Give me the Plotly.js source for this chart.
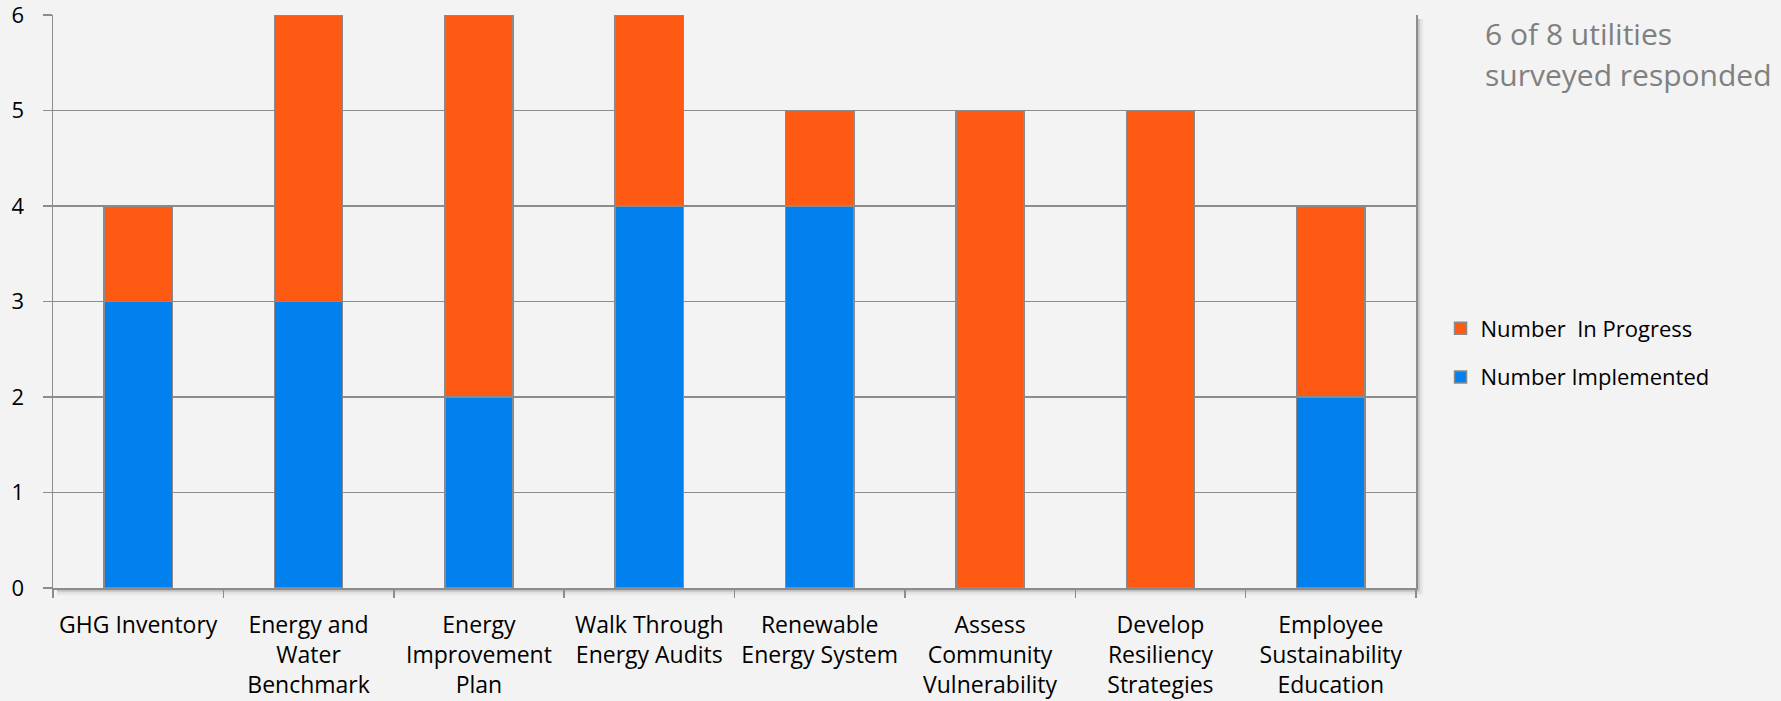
<!DOCTYPE html>
<html>
<head>
<meta charset="utf-8">
<script src="https://cdn.plot.ly/plotly-3.0.1.min.js"></script>
<style>
html,body{margin:0;padding:0;background:#f3f3f3;}
#chart{width:1781px;height:701px;}
</style>
</head>
<body>
<div id="chart"></div>
<script>
const categories = [
  "GHG Inventory",
  "Energy and<br>Water<br>Benchmark",
  "Energy<br>Improvement<br>Plan",
  "Walk Through<br>Energy Audits",
  "Renewable<br>Energy System",
  "Assess<br>Community<br>Vulnerability",
  "Develop<br>Resiliency<br>Strategies",
  "Employee<br>Sustainability<br>Education"
];
const implemented = [3, 3, 2, 4, 4, 0, 0, 2];
const inProgress = [1, 3, 4, 2, 1, 5, 5, 2];
const yTicks = [0, 1, 2, 3, 4, 5, 6];
const noteLines = ["6 of 8 utilities", "surveyed responded"];

const FONT = "Open Sans, sans-serif";
const GRID = "#8c8c8c";

const traces = [
  {
    type: "bar", name: "Number Implemented", x: categories, y: implemented,
    legendgroup: "impl", legendrank: 2,
    marker: {color: "#0180ee", line: {color: "#8a8a8a", width: 1.5}},
    hoverinfo: "skip"
  },
  {
    type: "bar", name: "Number  In Progress", x: categories, y: inProgress,
    legendgroup: "prog", legendrank: 1,
    marker: {color: "#ff5a14", line: {color: "#8a8a8a", width: 1.5}},
    hoverinfo: "skip"
  }
];

// soft shadow of plot area (right and bottom)
const shadow = [];
const shades = ["rgba(0,0,0,0.28)", "rgba(0,0,0,0.16)", "rgba(0,0,0,0.08)", "rgba(0,0,0,0.04)"];
shades.forEach((c, i) => {
  const dx = (i + 1) * 1.6;
  shadow.push({type: "line", xref: "paper", yref: "paper", x0: 1 + dx / 1363, x1: 1 + dx / 1363, y0: 0 - dx / 573, y1: 1 - 4 / 573, line: {color: c, width: 1.6}, layer: "below"});
  shadow.push({type: "line", xref: "paper", yref: "paper", x0: 4 / 1363, x1: 1 + dx / 1363, y0: 0 - dx / 573, y1: 0 - dx / 573, line: {color: c, width: 1.6}, layer: "below"});
});

const layout = {
  width: 1781, height: 701,
  margin: {l: 53, r: 365, t: 15, b: 113, pad: 0},
  paper_bgcolor: "#f3f3f3", plot_bgcolor: "#f3f3f3",
  barmode: "stack", bargap: 0.6,
  font: {family: FONT, size: 22, color: "#000"},
  showlegend: true,
  legend: {
    x: 1.018, xanchor: "left", y: (588 - 353) / 573, yanchor: "middle",
    traceorder: "grouped", font: {family: FONT, size: 22, color: "#000"},
    bgcolor: "rgba(0,0,0,0)", tracegroupgap: 17, itemwidth: 30
  },
  xaxis: {
    type: "category", showgrid: false, showline: true, linecolor: GRID, linewidth: 1.5,
    mirror: false, ticks: "outside", tickson: "boundaries", ticklen: 8, tickcolor: GRID, tickwidth: 1.5,
    tickfont: {family: FONT, size: 23, color: "#000"}, ticklabelstandoff: 16, automargin: false
  },
  yaxis: {
    range: [0, 6], tickvals: yTicks, ticktext: yTicks.map(String), showgrid: true, gridcolor: GRID, gridwidth: 1.5,
    showline: true, linecolor: GRID, linewidth: 1.5, mirror: true, zeroline: false,
    ticks: "outside", ticklen: 9, tickcolor: GRID, tickwidth: 1.5, ticklabeloverflow: "allow",
    tickfont: {family: FONT, size: 22, color: "#000"}, ticklabelstandoff: 14, automargin: false
  },
  shapes: shadow,
  annotations: noteLines.map((t, i) => ({
    text: t, xref: "paper", yref: "paper", x: (1483 - 53) / 1363, xanchor: "left",
    y: (588 - (33 + i * 41)) / 573, yanchor: "middle", showarrow: false,
    font: {family: FONT, size: 30, color: "#808080"}
  }))
};

Plotly.newPlot("chart", traces, layout, {displayModeBar: false, staticPlot: true});
</script>
</body>
</html>
